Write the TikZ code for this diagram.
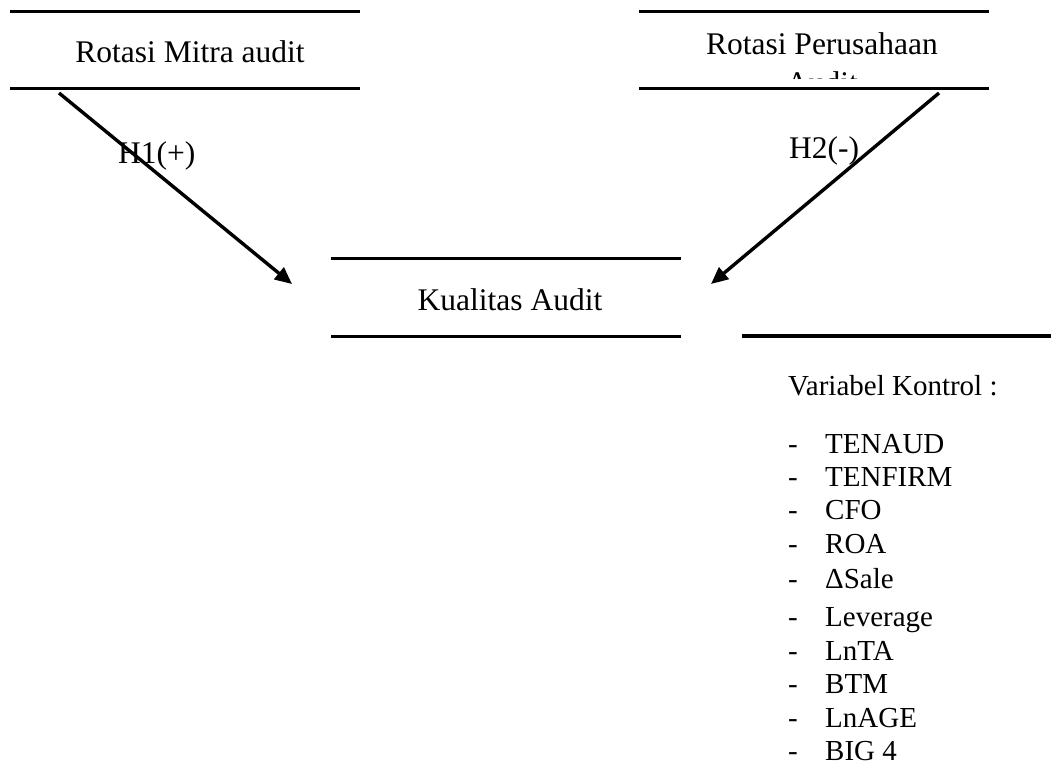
\documentclass[tikz,border=0pt]{standalone}
\usepackage{fontspec}
\setmainfont{Liberation Serif}
\usetikzlibrary{positioning, arrows.meta}

\begin{document}
\begin{tikzpicture}[
    x=1pt, y=-1pt,
    varbox/.style={minimum width=350pt, minimum height=77pt, inner sep=0pt},
    title/.style={font=\fontsize{31.5}{37}\selectfont, inner sep=0pt, anchor=base},
    item/.style={font=\fontsize{29}{34}\selectfont, inner sep=0pt, anchor=base west},
    rule/.style={line width=3pt},
    link/.style={line width=3.4pt, -{Triangle[length=17pt, width=15pt]}}
  ]
  \useasboundingbox (0,0) rectangle (1051,765);

  % Independent variables
  \node[varbox] (mitra) at (185,50) {};
  \node[title] (mitratext) at (190,63) {Rotasi Mitra audit};
  \node[varbox] (kap) at (814,50) {};
  \node[title] (kaptext) at (822,55) {Rotasi Perusahaan};
  \begin{scope}
    \clip (kap.north west) rectangle (989,79); % second line hidden by the box
    \node[title] (kaptext2) at (822,94) {Audit};
  \end{scope}

  % Dependent variable
  \node[varbox] (kualitas) at (506,297.5) {};
  \node[title] (kualitastext) at (510,310) {Kualitas Audit};

  % Box rules
  \foreach \n in {mitra, kap, kualitas}
    \draw[rule] (\n.north west) -- (\n.north east) (\n.south west) -- (\n.south east);

  % Hypotheses
  \coordinate (h1start) at (59,93);
  \coordinate (h1end) at (292,284);
  \coordinate (h2start) at (939,93);
  \coordinate (h2end) at (711,284);
  \draw[link] (h1start) -- (h1end);
  \draw[link] (h2start) -- (h2end);
  \node[title, anchor=base west] (h1) at (118,163) {H1(+)};
  \node[title, anchor=base west] (h2) at (789,158) {H2(-)};

  % Control variables
  \coordinate (ctlleft) at (742,336);
  \coordinate (ctlright) at (1051,336);
  \draw[line width=4pt] (ctlleft) -- (ctlright);
  \node[item] (ctltitle) at (788,395) {Variabel Kontrol :};
  \foreach \name/\ypos [count=\i] in {TENAUD/453, TENFIRM/486, CFO/519, ROA/553, ΔSale/588,
      Leverage/626, LnTA/660, BTM/693, LnAGE/727, BIG 4/760} {
    \node[item] (dash\i) at (788,\ypos) {-};
    \node[item] (ctl\i) at (825,\ypos) {\name};
  }

\end{tikzpicture}
\end{document}
